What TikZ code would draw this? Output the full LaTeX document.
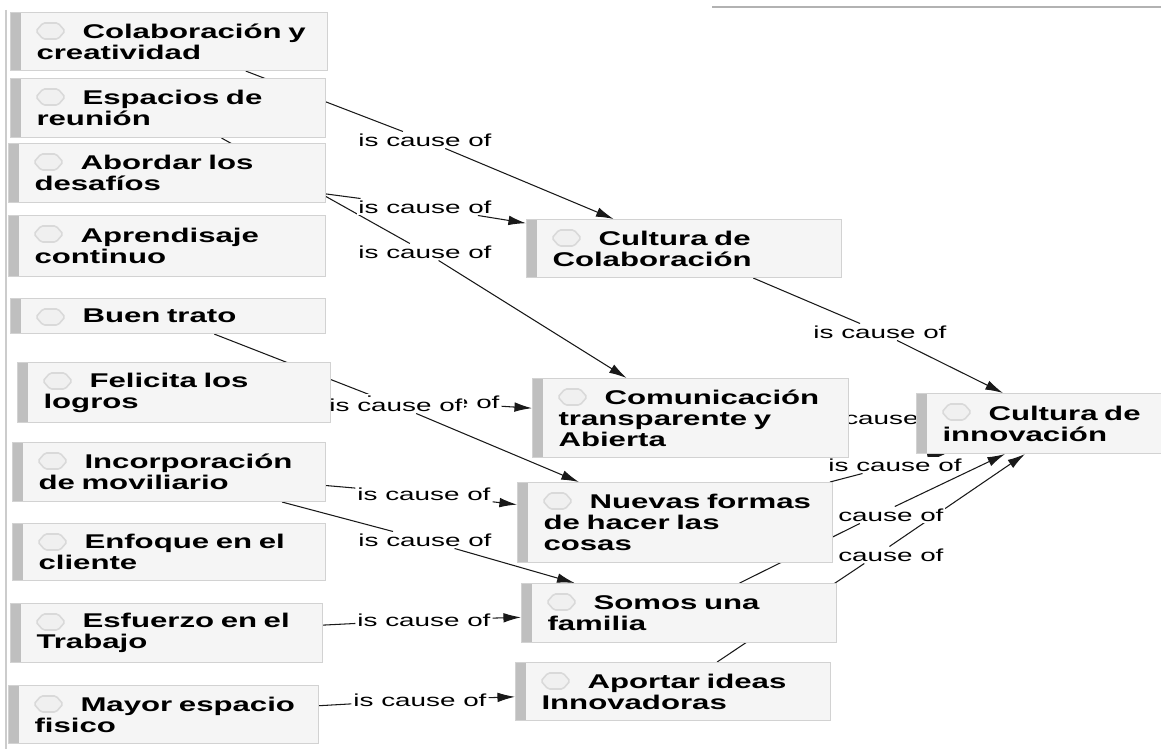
\documentclass[tikz,border=0pt]{standalone}
\usepackage{fontspec}
\usepackage{xcolor}
\usepackage{tikz}
\usetikzlibrary{arrows.meta}
\newfontfamily\nodefont{Liberation Sans}[FakeStretch=1.57]
\newfontfamily\linkfont{Liberation Sans}[FakeStretch=1.6]
\pgfdeclarelayer{background}
\pgfsetlayers{background,main}
\tikzset{
  concept/.style={draw=gray!35,line width=0.6pt,fill=gray!8,anchor=north west,
    inner xsep=0.52cm,inner ysep=0pt,align=left,
    font=\nodefont\bfseries\fontsize{11.3}{11.9}\selectfont,
    execute at begin node={\hyphenpenalty=10000\exhyphenpenalty=10000},
    path picture={\fill[gray!50] (path picture bounding box.north west) rectangle ([xshift=0.2cm]path picture bounding box.south west);}},
  icon/.style={gray!30,line width=0.9pt,fill=gray!12,rounded corners=1pt},
  lk/.style={font=\linkfont\fontsize{9.9}{11}\selectfont,inner sep=1pt,fill=white},
  ln/.style={line width=0.6pt,black!90},
  arr/.style={ln,-{Latex[length=10pt,width=5.5pt]}}
}
\newcommand{\concept}[6]{%
  \pgfmathsetmacro\cmw{(#4-#2)*0.02}\pgfmathsetmacro\cmh{(#5-#3)*0.02}\pgfmathsetmacro\cmt{(#4-#2-52)*0.02}%
  \node[concept,minimum width=\cmw cm,minimum height=\cmh cm,text width=\cmt cm] (#1) at (#2,#3) {\hspace*{0.92cm}#6};
  \draw[icon] (#1.north west) ++(26,19) -- ++(7,-8) -- ++(15,0) -- ++(7,8) -- ++(-7,8) -- ++(-15,0) -- cycle;}
\newcommand{\causelink}[3]{\node[lk] (#1) at (#2,#3) {is cause of};}

\begin{document}
\begin{tikzpicture}[x=0.02cm,y=-0.02cm]
\useasboundingbox (0,0) rectangle (1161,749);
\begin{pgfonlayer}{background}
\fill[white] (0,0) rectangle (1161,749);
\end{pgfonlayer}
\draw[gray!60,line width=1pt] (712,7) -- (1161,7);
\draw[gray!40,line width=0.8pt] (6,10) -- (6,749);
% linking phrases
\causelink{l1}{425}{140}
\causelink{l2}{425}{207}
\causelink{l3}{425}{252}
\causelink{l4}{880}{332}
\causelink{l5b}{433}{402}
\causelink{l5a}{396}{405}
\causelink{l6}{883}{418}
\causelink{l7}{895}{465}
\causelink{l8}{877}{515}
\causelink{l9}{877}{555}
\causelink{l10}{424}{494}
\causelink{l11}{425}{540}
\causelink{l12}{424}{620}
\causelink{l13}{420}{700}
% concepts
\concept{colab}{10}{12}{327}{70}{Colaboración~y\\creatividad}
\concept{espacios}{10}{78}{325}{137}{Espacios~de\\reunión}
\concept{abordar}{8}{143}{325}{202}{Abordar~los\\desafíos}
\concept{aprend}{8}{215}{325}{276}{Aprendisaje\\continuo}
\concept{buen}{10}{298}{325}{333}{Buen~trato}
\concept{felicita}{17}{362}{330}{422}{Felicita~los\\logros}
\concept{incorp}{12}{442}{325}{501}{Incorporación\\de~moviliario}
\concept{enfoque}{12}{523}{325}{580}{Enfoque~en~el\\cliente}
\concept{esfuerzo}{10}{603}{322}{662}{Esfuerzo~en~el\\Trabajo}
\concept{mayor}{8}{685}{318}{743}{Mayor~espacio\\fisico}
\concept{cultcol}{526}{219}{841}{277}{Cultura~de\\Colaboración}
\concept{comun}{532}{378}{848}{457}{Comunicación\\transparente~y\\Abierta}
\concept{nuevas}{517}{482}{832}{562}{Nuevas~formas\\de~hacer~las\\cosas}
\concept{somos}{521}{583}{836}{642}{Somos~una\\familia}
\concept{aportar}{515}{662}{830}{720}{Aportar~ideas\\Innovadoras}
\concept{cultinn}{916}{393}{1161}{453}{Cultura~de\\innovación}
\coordinate (in4) at ([xshift=1.74cm]cultinn.north west);
\coordinate (in7) at ([xshift=0.58cm]cultinn.south west);
\coordinate (in8) at ([xshift=1.78cm]cultinn.south west);
\coordinate (in9) at ([xshift=2.18cm]cultinn.south west);
% connectors
\begin{pgfonlayer}{background}
\draw[ln] (colab) -- (l1); \draw[arr] (l1) -- (cultcol);
\draw[ln] (abordar) -- (l2); \draw[arr] (l2) -- (cultcol);
\draw[ln] (espacios) -- (l3); \draw[arr] (l3) -- (comun);
\draw[ln] (cultcol) -- (l4); \draw[arr] (l4) -- (in4);
\draw[ln] (buen) -- (l5a); \draw[arr] (l5a) -- (nuevas);
\draw[ln] (felicita) -- (l5b); \draw[arr] (l5b) -- (comun);
\draw[ln] (comun) -- (l6); \draw[arr] (l6) -- (cultinn);
\draw[ln] (nuevas) -- (l7); \draw[arr] (l7) -- (in7);
\draw[ln] (somos) -- (l8); \draw[arr] (l8) -- (in8);
\draw[ln] (aportar) -- (l9); \draw[arr] (l9) -- (in9);
\draw[ln] (incorp) -- (l10); \draw[arr] (l10) -- (nuevas);
\draw[ln] (incorp) -- (l11); \draw[arr] (l11) -- (somos);
\draw[ln] (esfuerzo) -- (l12); \draw[arr] (l12) -- (somos);
\draw[ln] (mayor) -- (l13); \draw[arr] (l13) -- (aportar);
\end{pgfonlayer}
\end{tikzpicture}
\end{document}
